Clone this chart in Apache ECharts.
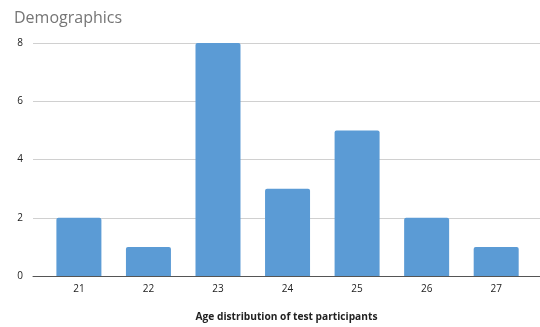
<!DOCTYPE html>
<html>
<head>
<meta charset="utf-8">
<script src="https://cdn.jsdelivr.net/npm/echarts@6/dist/echarts.min.js"></script>
<style>html,body{margin:0;padding:0;background:#fff;}#c{width:540px;height:327px;}</style>
</head>
<body>
<div id="c"></div>
<script>
const ages = [21, 22, 23, 24, 25, 26, 27];
const counts = [2, 1, 8, 3, 5, 2, 1];
const yTicks = [0, 2, 4, 6, 8];
const titleText = 'Demographics';
const xAxisName = 'Age distribution of test participants';

const chart = echarts.init(document.getElementById('c'), null, {renderer: 'canvas'});
chart.setOption({
  animation: false,
  backgroundColor: '#ffffff',
  title: {
    text: titleText, left: 9, top: 5,
    textStyle: {fontFamily: 'Open Sans', fontSize: 16, fontWeight: 'normal', color: '#757575'}
  },
  grid: {left: 33, right: 0, top: 43, bottom: 49, containLabel: false},
  xAxis: {
    type: 'value', min: 20.34, max: 27.63,
    name: xAxisName, nameLocation: 'middle', nameGap: 36,
    nameTextStyle: {fontFamily: 'Open Sans', fontSize: 10.2, fontWeight: 'bold', color: '#222'},
    axisLine: {show: true, lineStyle: {color: '#555', width: 1}},
    axisTick: {show: false},
    splitLine: {show: false},
    axisLabel: {customValues: ages, margin: 8, fontFamily: 'Open Sans', fontSize: 10, color: '#222'}
  },
  yAxis: {
    type: 'value', min: 0, max: 8, interval: 2,
    axisLine: {show: false}, axisTick: {show: false},
    splitLine: {lineStyle: {color: '#d0d0d0', width: 1}},
    axisLabel: {margin: 10, fontFamily: 'Open Sans', fontSize: 10, color: '#222'}
  },
  series: [{
    type: 'bar',
    data: ages.map((a, i) => [a, counts[i]]),
    barWidth: 45,
    itemStyle: {color: '#5b9bd5', borderRadius: [2, 2, 0, 0]}
  }]
});
</script>
</body>
</html>
